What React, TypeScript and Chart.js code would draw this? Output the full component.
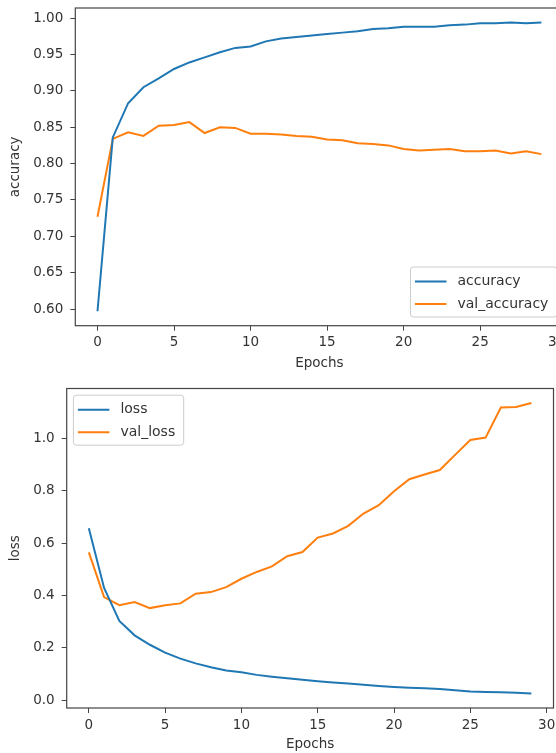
import React, { useEffect, useRef } from "react";
import { Chart, registerables } from "chart.js";

Chart.register(...registerables);

// ---------- data ----------
const epochs = [0, 1, 2, 3, 4, 5, 6, 7, 8, 9, 10, 11, 12, 13, 14, 15, 16, 17, 18, 19, 20, 21, 22, 23, 24, 25, 26, 27, 28, 29];

const accuracy = [0.597, 0.836, 0.883, 0.905, 0.917, 0.930, 0.939, 0.946, 0.953, 0.959, 0.961, 0.968, 0.972, 0.974, 0.976, 0.978, 0.980, 0.982, 0.985, 0.986, 0.988, 0.988, 0.988, 0.990, 0.991, 0.993, 0.993, 0.994, 0.993, 0.994];
const valAccuracy = [0.727, 0.834, 0.843, 0.838, 0.852, 0.853, 0.857, 0.842, 0.850, 0.849, 0.841, 0.841, 0.840, 0.838, 0.837, 0.833, 0.832, 0.828, 0.827, 0.825, 0.820, 0.818, 0.819, 0.820, 0.817, 0.817, 0.818, 0.814, 0.817, 0.813];

const loss = [0.657, 0.429, 0.303, 0.248, 0.212, 0.182, 0.159, 0.141, 0.126, 0.114, 0.107, 0.097, 0.090, 0.084, 0.078, 0.073, 0.068, 0.064, 0.059, 0.055, 0.051, 0.048, 0.046, 0.043, 0.038, 0.034, 0.032, 0.031, 0.029, 0.026];
const valLoss = [0.565, 0.394, 0.363, 0.375, 0.352, 0.363, 0.370, 0.407, 0.413, 0.432, 0.464, 0.490, 0.511, 0.550, 0.566, 0.621, 0.637, 0.666, 0.713, 0.745, 0.798, 0.844, 0.862, 0.879, 0.937, 0.994, 1.003, 1.118, 1.120, 1.135];

const epochTicks = [0, 5, 10, 15, 20, 25, 30];
const accuracyTicks = [0.6, 0.65, 0.7, 0.75, 0.8, 0.85, 0.9, 0.95, 1.0];
const lossTicks = [0.0, 0.2, 0.4, 0.6, 0.8, 1.0];

// ---------- style ----------
const BLUE = "#1f77b4";
const ORANGE = "#ff7f0e";
const FONT = '"DejaVu Sans", sans-serif';
const TEXT = "#333333";
const AXIS = "#444444";
const CANVAS_W = 600;

function margins(values: number[]) {
  const lo = Math.min(...values);
  const hi = Math.max(...values);
  const m = (hi - lo) * 0.05;
  return { min: lo - m, max: hi + m };
}

const framePlugin = {
  id: "frame",
  afterDraw(chart: any) {
    const { ctx, chartArea } = chart;
    ctx.save();
    ctx.strokeStyle = AXIS;
    ctx.lineWidth = 1.2;
    ctx.strokeRect(chartArea.left, chartArea.top, chartArea.right - chartArea.left, chartArea.bottom - chartArea.top);
    ctx.restore();
  },
};

const boxLegendPlugin = {
  id: "boxLegend",
  afterDraw(chart: any, _args: any, opts: any) {
    const { ctx, chartArea } = chart;
    ctx.save();
    ctx.font = `14px ${FONT}`;
    const items = chart.data.datasets.map((d: any) => ({ label: d.label as string, color: d.borderColor as string }));
    const textW = Math.max(...items.map((i: any) => ctx.measureText(i.label).width));
    const w = 4.5 + 31.5 + 11 + textW + 8.5;
    const h = 50;
    let x: number, y: number;
    if (opts.corner === "lowerRight") {
      x = chartArea.right - 6.7 - w;
      y = chartArea.bottom - 8.7 - h;
    } else {
      x = chartArea.left + 6.7;
      y = chartArea.top + 6.7;
    }
    ctx.beginPath();
    ctx.roundRect(x, y, w, h, 3);
    ctx.fillStyle = "rgba(255,255,255,0.85)";
    ctx.fill();
    ctx.strokeStyle = "#cccccc";
    ctx.lineWidth = 1;
    ctx.stroke();
    items.forEach((it: any, i: number) => {
      const cy = y + 14.5 + i * 22.5;
      ctx.beginPath();
      ctx.moveTo(x + 4.5, cy);
      ctx.lineTo(x + 36, cy);
      ctx.strokeStyle = it.color;
      ctx.lineWidth = 2;
      ctx.stroke();
      ctx.fillStyle = TEXT;
      ctx.textBaseline = "middle";
      ctx.textAlign = "left";
      ctx.fillText(it.label, x + 47, cy);
    });
    ctx.restore();
  },
};

type PanelProps = {
  top: number;
  height: number;
  area: { left: number; top: number; right: number; bottom: number };
  series: { label: string; values: number[]; color: string }[];
  yTicks: number[];
  decimals: number;
  yTitle: string;
  xTitlePadBottom: number;
  legendCorner: "lowerRight" | "upperLeft";
};

function Panel(props: PanelProps) {
  const ref = useRef<HTMLCanvasElement>(null);
  useEffect(() => {
    const { area, height } = props;
    const allY = props.series.flatMap((s) => s.values);
    const yr = margins(allY);
    const xr = margins(epochs);
    const chart = new Chart(ref.current as HTMLCanvasElement, {
      type: "line",
      data: {
        datasets: props.series.map((s) => ({
          label: s.label,
          data: epochs.map((e, i) => ({ x: e, y: s.values[i] })),
          borderColor: s.color,
          backgroundColor: s.color,
          borderWidth: 2,
          pointRadius: 0,
          tension: 0,
          fill: false,
        })),
      },
      options: {
        animation: false,
        responsive: false,
        devicePixelRatio: 1,
        layout: { padding: { left: 0, top: area.top, right: CANVAS_W - area.right, bottom: 0 } },
        plugins: {
          legend: { display: false },
          tooltip: { enabled: false },
          boxLegend: { corner: props.legendCorner },
        } as any,
        scales: {
          x: {
            type: "linear",
            min: xr.min,
            max: xr.max,
            afterBuildTicks: (s: any) => {
              s.ticks = epochTicks.map((v) => ({ value: v }));
            },
            afterFit: (s: any) => {
              s.height = height - area.bottom;
              s.paddingLeft = 0;
              s.paddingRight = 0;
            },
            ticks: {
              autoSkip: false,
              maxRotation: 0,
              padding: 4,
              color: TEXT,
              font: { family: FONT, size: 13.5 },
              callback: (v: any) => String(v),
            },
            grid: { drawOnChartArea: false, drawTicks: true, tickLength: 5, color: AXIS, lineWidth: 1 },
            border: { display: false },
            title: {
              display: true,
              text: "Epochs",
              color: TEXT,
              font: { family: FONT, size: 13.5 },
              padding: { top: 0, bottom: props.xTitlePadBottom },
            },
          },
          y: {
            type: "linear",
            min: yr.min,
            max: yr.max,
            afterBuildTicks: (s: any) => {
              s.ticks = props.yTicks.map((v) => ({ value: v }));
            },
            afterFit: (s: any) => {
              s.width = area.left;
              s.paddingTop = 0;
              s.paddingBottom = 0;
            },
            ticks: {
              autoSkip: false,
              padding: 7,
              color: TEXT,
              font: { family: FONT, size: 13.5 },
              callback: (v: any) => Number(v).toFixed(props.decimals),
            },
            grid: { drawOnChartArea: false, drawTicks: true, tickLength: 5, color: AXIS, lineWidth: 1 },
            border: { display: false },
            title: {
              display: true,
              text: props.yTitle,
              color: TEXT,
              font: { family: FONT, size: 13.5 },
              padding: { top: 7, bottom: 0 },
            },
          },
        },
      } as any,
      plugins: [framePlugin, boxLegendPlugin],
    });
    return () => chart.destroy();
  }, []);
  return (
    <canvas
      ref={ref}
      width={CANVAS_W}
      height={props.height}
      style={{ position: "absolute", left: 0, top: props.top, width: CANVAS_W, height: props.height, display: "block" }}
    />
  );
}

export default function App() {
  return (
    <div style={{ position: "absolute", left: 0, top: 0, width: 556, height: 753, overflow: "hidden", background: "#ffffff" }}>
      <Panel
        top={0}
        height={380}
        area={{ left: 75.3, top: 8, right: 563.6, bottom: 325.7 }}
        series={[
          { label: "accuracy", values: accuracy, color: BLUE },
          { label: "val_accuracy", values: valAccuracy, color: ORANGE },
        ]}
        yTicks={accuracyTicks}
        decimals={2}
        yTitle="accuracy"
        xTitlePadBottom={8.9}
        legendCorner="lowerRight"
      />
      <Panel
        top={380}
        height={373}
        area={{ left: 66.7, top: 8.5, right: 553.5, bottom: 328 }}
        series={[
          { label: "loss", values: loss, color: BLUE },
          { label: "val_loss", values: valLoss, color: ORANGE },
        ]}
        yTicks={lossTicks}
        decimals={1}
        yTitle="loss"
        xTitlePadBottom={0}
        legendCorner="upperLeft"
      />
    </div>
  );
}
